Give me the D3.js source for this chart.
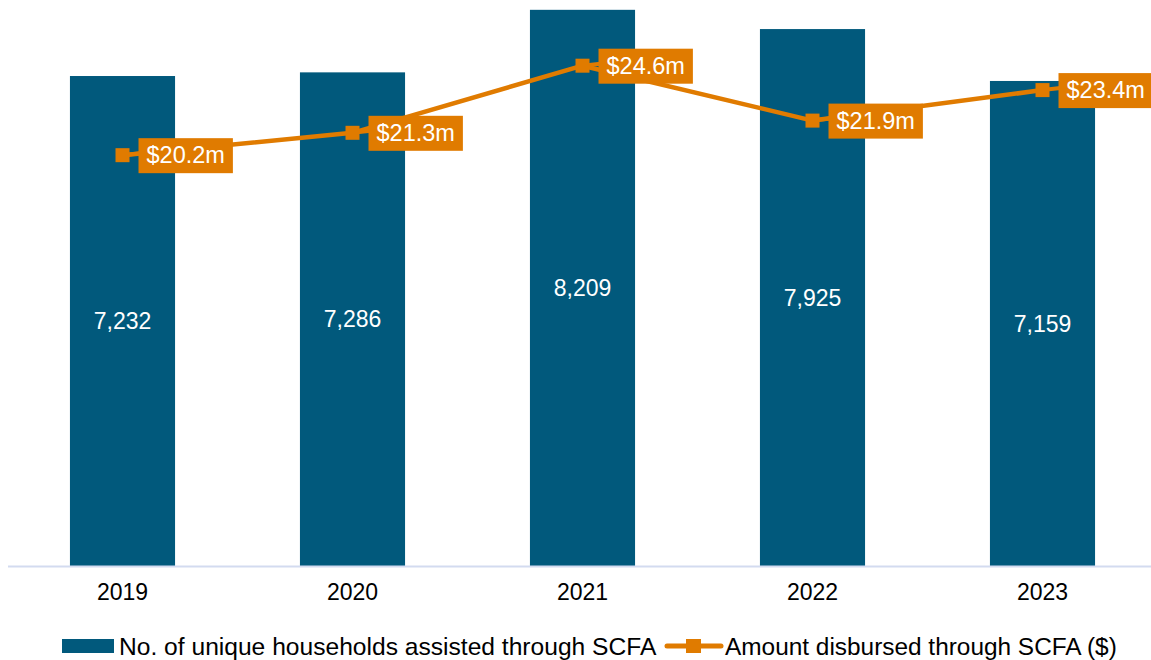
<!DOCTYPE html>
<html>
<head>
<meta charset="utf-8">
<script src="https://cdn.jsdelivr.net/npm/d3@7"></script>
<style>
  html, body { margin: 0; padding: 0; background: #ffffff; }
  svg { display: block; font-family: "Liberation Sans", Arial, sans-serif; }
</style>
</head>
<body>
<svg id="chart" width="1151" height="660"></svg>
<script>
// Yearly SCFA figures
const years = ["2019", "2020", "2021", "2022", "2023"];
const households = [7232, 7286, 8209, 7925, 7159];
const amounts = [20.2, 21.3, 24.6, 21.9, 23.4]; // $ millions

const barLabel = "No. of unique households assisted through SCFA";
const lineLabel = "Amount disbursed through SCFA ($)";

const BLUE = "#01597c";
const ORANGE = "#e07b00";

const svg = d3.select("#chart");
const baseY = 566;

const x = d3.scaleBand().domain(years).range([7.5, 1157.5]).padding(0);
const barW = x.bandwidth() * 0.457;
const cx = d => x(d) + x.bandwidth() / 2;

const yBar = d3.scaleLinear().domain([0, 8354]).range([baseY, 0]);
const yLine = d3.scaleLinear().domain([0, 27.83]).range([baseY, 0]);

// Bars
svg.append("g").selectAll("rect")
  .data(years)
  .join("rect")
  .attr("x", (d) => cx(d) - barW / 2)
  .attr("width", barW)
  .attr("y", (d, i) => yBar(households[i]))
  .attr("height", (d, i) => baseY - yBar(households[i]))
  .attr("fill", BLUE);

// Bar value labels, centred vertically inside each bar
svg.append("g").selectAll("text")
  .data(years)
  .join("text")
  .attr("x", d => cx(d))
  .attr("y", (d, i) => (yBar(households[i]) + baseY) / 2)
  .attr("dy", "0.35em")
  .attr("text-anchor", "middle")
  .attr("fill", "#ffffff")
  .attr("font-size", 23)
  .text((d, i) => d3.format(",")(households[i]));

// Category axis
const xAxis = svg.append("g")
  .attr("transform", `translate(0,${baseY})`)
  .call(d3.axisBottom(x).tickSize(0).tickPadding(18));
xAxis.select(".domain").attr("stroke", "#d3dbf0").attr("stroke-width", 2);
xAxis.selectAll("text")
  .attr("font-size", 23)
  .attr("fill", "#000000")
  .attr("font-family", "'Liberation Sans', Arial, sans-serif");

// Amount line
const pts = years.map((d, i) => [cx(d), yLine(amounts[i])]);
svg.append("path")
  .attr("d", d3.line()(pts))
  .attr("fill", "none")
  .attr("stroke", ORANGE)
  .attr("stroke-width", 4.5)
  .attr("stroke-linejoin", "round");

// Value callouts: leader, box, text
const callouts = svg.append("g");
years.forEach((d, i) => {
  const [px, py] = pts[i];
  const g = callouts.append("g");
  const t = g.append("text")
    .attr("x", px + 24)
    .attr("y", py)
    .attr("dy", "0.35em")
    .attr("fill", "#ffffff")
    .attr("font-size", 23.5)
    .text("$" + d3.format(".1f")(amounts[i]) + "m");
  const w = t.node().getComputedTextLength();
  g.insert("rect", "text")
    .attr("x", px + 16)
    .attr("y", py - 17)
    .attr("width", w + 16)
    .attr("height", 35)
    .attr("fill", ORANGE);
  g.insert("line", "rect")
    .attr("x1", px).attr("y1", py)
    .attr("x2", px + 18).attr("y2", py - 2)
    .attr("stroke", ORANGE).attr("stroke-width", 4);
});

// Square markers
svg.append("g").selectAll("rect")
  .data(pts)
  .join("rect")
  .attr("x", p => p[0] - 7)
  .attr("y", p => p[1] - 7)
  .attr("width", 14)
  .attr("height", 14)
  .attr("fill", ORANGE);

// Legend
const leg = svg.append("g").attr("transform", "translate(0,646)");
leg.append("rect").attr("x", 62).attr("y", -7).attr("width", 52).attr("height", 14).attr("fill", BLUE);
leg.append("text").attr("x", 119).attr("dy", "0.35em").attr("font-size", 24.6).attr("fill", "#000").text(barLabel);
leg.append("line").attr("x1", 667).attr("x2", 721).attr("y1", 0).attr("y2", 0)
  .attr("stroke", ORANGE).attr("stroke-width", 5).attr("stroke-linecap", "round");
leg.append("rect").attr("x", 686).attr("y", -7).attr("width", 15).attr("height", 14).attr("fill", ORANGE);
leg.append("text").attr("x", 725).attr("dy", "0.35em").attr("font-size", 24.4).attr("fill", "#000").text(lineLabel);
</script>
</body>
</html>
